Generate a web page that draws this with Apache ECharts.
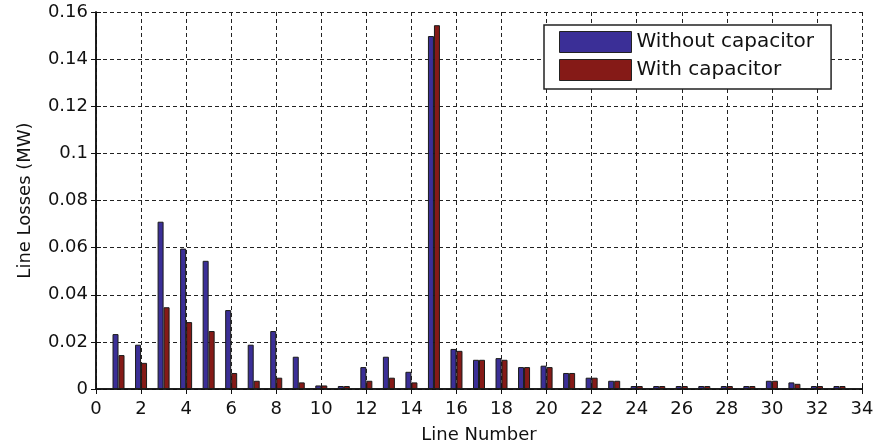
<!DOCTYPE html>
<html>
<head>
<meta charset="utf-8">
<title>Line Losses</title>
<script src="https://cdn.jsdelivr.net/npm/echarts@6/dist/echarts.min.js"></script>
<style>
  html, body { margin: 0; padding: 0; background: #fff; }
  #chart { width: 877px; height: 445px; }
</style>
</head>
<body>
<div id="chart"></div>
<script>
// Line numbers of the feeder
const lineNumbers = [1, 2, 3, 4, 5, 6, 7, 8, 9, 10, 11, 12, 13, 14, 15, 16, 17,
  18, 19, 20, 21, 22, 23, 24, 25, 26, 27, 28, 29, 30, 31, 32, 33];

// Real power losses per line (MW)
const lossWithout = [0.0233, 0.0188, 0.0710, 0.0596, 0.0544, 0.0335, 0.0188, 0.0246,
  0.0137, 0.0015, 0.0009, 0.0093, 0.0137, 0.0073, 0.1498, 0.0170, 0.0124,
  0.0131, 0.0093, 0.0099, 0.0068, 0.0048, 0.0035, 0.0010, 0.0004, 0.0004,
  0.0004, 0.0004, 0.0004, 0.0035, 0.0028, 0.0010, 0.0004];
const lossWith = [0.0144, 0.0111, 0.0347, 0.0284, 0.0246, 0.0068, 0.0035, 0.0048,
  0.0028, 0.0015, 0.0009, 0.0035, 0.0048, 0.0028, 0.1544, 0.0162, 0.0124,
  0.0124, 0.0093, 0.0093, 0.0068, 0.0048, 0.0035, 0.0010, 0.0004, 0.0004,
  0.0004, 0.0004, 0.0004, 0.0035, 0.0022, 0.0010, 0.0004];

const seriesNames = ['Without capacitor', 'With capacitor'];
const seriesColors = ['#3b2f97', '#851a17'];

const FONT = 'DejaVu Sans';
const axisLine = { show: true, lineStyle: { color: '#111', width: 1.5 } };
const gridLine = { show: true, lineStyle: { color: '#222', type: [4, 3], width: 1 } };
const tickIn = { show: true, inside: true, length: 5, lineStyle: { color: '#111', width: 1 } };

const chart = echarts.init(document.getElementById('chart'), null, { renderer: 'canvas' });

const toPairs = vals => lineNumbers.map((n, i) => [n, vals[i]]);

chart.setOption({
  backgroundColor: '#fff',
  animation: false,
  textStyle: { fontFamily: FONT },
  grid: { left: 96, right: 15, top: 12, bottom: 56, containLabel: false, outerBoundsMode: 'none' },
  legend: {
    data: seriesNames,
    orient: 'vertical',
    left: 544,
    top: 25,
    itemWidth: 72,
    itemHeight: 21,
    itemGap: 6,
    padding: [6, 17, 8, 15],
    borderColor: '#222',
    borderWidth: 1.5,
    backgroundColor: '#fff',
    icon: 'rect',
    textStyle: { fontFamily: FONT, fontSize: 20, color: '#111' },
    itemStyle: { borderColor: '#222', borderWidth: 1 }
  },
  xAxis: [{
    type: 'value',
    min: 0, max: 34, interval: 2,
    name: 'Line Number',
    nameLocation: 'middle',
    nameGap: 37,
    nameTextStyle: { fontFamily: FONT, fontSize: 18, color: '#111' },
    axisLine: axisLine,
    axisTick: tickIn,
    splitLine: gridLine,
    axisLabel: { fontFamily: FONT, fontSize: 18, color: '#111', margin: 11 }
  }, {
    type: 'value',
    position: 'top',
    min: 0, max: 34, interval: 2,
    axisLine: axisLine,
    axisTick: tickIn,
    splitLine: { show: false },
    axisLabel: { show: false }
  }],
  yAxis: [{
    type: 'value',
    min: 0, max: 0.16, interval: 0.02,
    name: 'Line Losses (MW)',
    nameLocation: 'middle',
    nameGap: 62,
    nameTextStyle: { fontFamily: FONT, fontSize: 18, color: '#111' },
    axisLine: axisLine,
    axisTick: tickIn,
    splitLine: gridLine,
    axisLabel: { fontFamily: FONT, fontSize: 18, color: '#111', margin: 8 }
  }, {
    type: 'value',
    position: 'right',
    min: 0, max: 0.16, interval: 0.02,
    axisLine: axisLine,
    axisTick: tickIn,
    splitLine: { show: false },
    axisLabel: { show: false }
  }],
  series: [{
    name: seriesNames[0],
    type: 'bar',
    data: toPairs(lossWithout),
    barWidth: 6,
    barGap: '0%',
    barMinHeight: 3,
    itemStyle: { color: seriesColors[0], borderColor: '#1a1a1a', borderWidth: 1 }
  }, {
    name: seriesNames[1],
    type: 'bar',
    data: toPairs(lossWith),
    barWidth: 6,
    barGap: '0%',
    barMinHeight: 3,
    itemStyle: { color: seriesColors[1], borderColor: '#1a1a1a', borderWidth: 1 }
  }]
});
</script>
</body>
</html>
